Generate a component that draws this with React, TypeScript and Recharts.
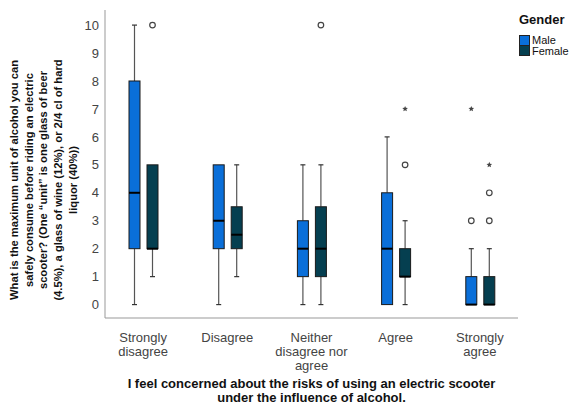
import React from 'react';
import { ComposedChart, Bar, XAxis, YAxis } from 'recharts';

const categories = ['Strongly\ndisagree', 'Disagree', 'Neither\ndisagree nor\nagree', 'Agree', 'Strongly\nagree'];

const maleMin = [0, 0, 0, 0, 0];
const maleQ1 = [2, 2, 1, 0, 0];
const maleMedian = [4, 3, 2, 2, 0];
const maleQ3 = [8, 5, 3, 4, 1];
const maleMax = [10, 5, 5, 6, 2];
const maleOutliers = [[], [], [], [], [3]];
const maleExtremes = [[], [], [], [], [7]];

const femaleMin = [1, 1, 0, 0, 0];
const femaleQ1 = [2, 2, 1, 1, 0];
const femaleMedian = [2, 2.5, 2, 1, 0];
const femaleQ3 = [5, 3.5, 3.5, 2, 1];
const femaleMax = [5, 5, 5, 3, 2];
const femaleOutliers = [[10], [], [10], [5], [3, 4]];
const femaleExtremes = [[], [], [], [7], [5]];

const yTicks = [0, 1, 2, 3, 4, 5, 6, 7, 8, 9, 10];

const yTitle = [
  'What is the maximum unit of alcohol you can',
  'safely consume before riding an electric',
  'scooter? (One \u201cunit\u201d is one glass of beer',
  '(4.5%), a glass of wine (12%), or 2/4 cl of hard',
  'liquor (40%))',
];
const xTitle = [
  'I feel concerned about the risks of using an electric scooter',
  'under the influence of alcohol.',
];

const MALE = '#0a6fd9';
const FEMALE = '#053f50';
const FONT = '"Liberation Sans", Arial, sans-serif';

interface Stats {
  min: number;
  q1: number;
  median: number;
  q3: number;
  max: number;
  outliers: number[];
  extremes: number[];
}

const data = categories.map((cat, i) => ({
  cat,
  male: [maleMin[i], maleMax[i]],
  female: [femaleMin[i], femaleMax[i]],
  maleStats: {
    min: maleMin[i], q1: maleQ1[i], median: maleMedian[i], q3: maleQ3[i], max: maleMax[i],
    outliers: maleOutliers[i], extremes: maleExtremes[i],
  },
  femaleStats: {
    min: femaleMin[i], q1: femaleQ1[i], median: femaleMedian[i], q3: femaleQ3[i], max: femaleMax[i],
    outliers: femaleOutliers[i], extremes: femaleExtremes[i],
  },
}));

function star(cx: number, cy: number, r: number): string {
  const pts: string[] = [];
  for (let k = 0; k < 10; k++) {
    const rr = k % 2 === 0 ? r : r * 0.45;
    const a = -Math.PI / 2 + (k * Math.PI) / 5;
    pts.push(`${cx + rr * Math.cos(a)},${cy + rr * Math.sin(a)}`);
  }
  return pts.join(' ');
}

function makeBox(key: 'maleStats' | 'femaleStats', fill: string) {
  return function BoxShape(props: any) {
    const { x, y, width, height, payload } = props;
    const s: Stats = payload[key];
    // bar spans [min, max]; map values through the same pixel range
    const toPx = (v: number) => y + (height * (s.max - v)) / (s.max - s.min);
    const cx = x + width / 2;
    const cap = 2.5;
    return (
      <g>
        {s.q1 > s.min && (
          <g stroke="#555" strokeWidth={1.2}>
            <line x1={cx} x2={cx} y1={toPx(s.min)} y2={toPx(s.q1)} />
            <line x1={cx - cap} x2={cx + cap} y1={toPx(s.min)} y2={toPx(s.min)} stroke="#333" />
          </g>
        )}
        {s.max > s.q3 && (
          <g stroke="#555" strokeWidth={1.2}>
            <line x1={cx} x2={cx} y1={toPx(s.max)} y2={toPx(s.q3)} />
            <line x1={cx - cap} x2={cx + cap} y1={toPx(s.max)} y2={toPx(s.max)} stroke="#333" />
          </g>
        )}
        <rect
          x={x}
          y={toPx(s.q3)}
          width={width}
          height={toPx(s.q1) - toPx(s.q3)}
          fill={fill}
          stroke="#1a1a1a"
          strokeWidth={1}
        />
        <line x1={x} x2={x + width} y1={toPx(s.median)} y2={toPx(s.median)} stroke="#000" strokeWidth={2} />
        {s.outliers.map((v, k) => (
          <circle key={`o${k}`} cx={cx} cy={toPx(v)} r={2.8} fill="#fff" stroke="#444" strokeWidth={1.2} />
        ))}
        {s.extremes.map((v, k) => (
          <polygon key={`e${k}`} points={star(cx, toPx(v), 3)} fill="#444" />
        ))}
      </g>
    );
  };
}

function XTick(props: any) {
  const { x, y, payload } = props;
  const lines = String(payload.value).split('\n');
  return (
    <text x={x} y={y} textAnchor="middle" fill="#444" fontSize={13} fontFamily={FONT}>
      {lines.map((l, i) => (
        <tspan key={i} x={x} dy={i === 0 ? 16 : 14}>
          {l}
        </tspan>
      ))}
    </text>
  );
}

function YTitle(props: any) {
  const { viewBox } = props;
  const cy = viewBox.y + viewBox.height / 2 + 16;
  return (
    <g>
      {yTitle.map((l, i) => {
        const lx = 18 + i * 14.7;
        return (
          <text
            key={i}
            x={lx}
            y={cy}
            transform={`rotate(-90, ${lx}, ${cy})`}
            textAnchor="middle"
            fontSize={11.2}
            fontWeight="bold"
            fill="#111"
            fontFamily={FONT}
          >
            {l}
          </text>
        );
      })}
    </g>
  );
}

function XTitle(props: any) {
  const { viewBox } = props;
  const cx = viewBox.x + viewBox.width / 2;
  return (
    <g>
      {xTitle.map((l, i) => (
        <text
          key={i}
          x={cx}
          y={388 + i * 13.5}
          textAnchor="middle"
          fontSize={13}
          fontWeight="bold"
          fill="#111"
          fontFamily={FONT}
        >
          {l}
        </text>
      ))}
    </g>
  );
}

function GenderLegend() {
  const items = [
    { name: 'Male', color: MALE },
    { name: 'Female', color: FEMALE },
  ];
  return (
    <div style={{ position: 'absolute', left: 519, top: 12, fontFamily: FONT, color: '#111' }}>
      <div style={{ fontSize: 13, fontWeight: 'bold', marginBottom: 8 }}>Gender</div>
      {items.map((it) => (
        <div key={it.name} style={{ display: 'flex', alignItems: 'center', height: 10.5, fontSize: 11 }}>
          <span
            style={{
              display: 'inline-block',
              width: 9,
              height: 9,
              background: it.color,
              border: '1px solid #222',
              marginRight: 2,
            }}
          />
          {it.name}
        </div>
      ))}
    </div>
  );
}

export default function App() {
  return (
    <div style={{ position: 'absolute', left: 0, top: 0, width: 574, height: 405, background: '#fff' }}>
      <ComposedChart
        width={574}
        height={405}
        data={data}
        margin={{ top: 10, right: 56, bottom: 0, left: 0 }}
        barGap={7}
        barSize={11}
      >
        <XAxis
          dataKey="cat"
          height={87}
          tickLine={false}
          axisLine={{ stroke: '#999' }}
          tick={<XTick />}
          interval={0}
          padding={{ left: -4, right: -4 }}
          label={<XTitle />}
        />
        <YAxis
          type="number"
          width={105}
          domain={[-0.48, 10.54]}
          ticks={yTicks}
          tickLine={false}
          tickSize={0}
          tickMargin={6}
          axisLine={{ stroke: '#999' }}
          tick={{ fill: '#444', fontSize: 13, fontFamily: FONT }}
          allowDataOverflow
          label={<YTitle />}
        />
        <Bar dataKey="male" fill={MALE} isAnimationActive={false} shape={makeBox('maleStats', MALE)} />
        <Bar dataKey="female" fill={FEMALE} isAnimationActive={false} shape={makeBox('femaleStats', FEMALE)} />
      </ComposedChart>
      <GenderLegend />
    </div>
  );
}
